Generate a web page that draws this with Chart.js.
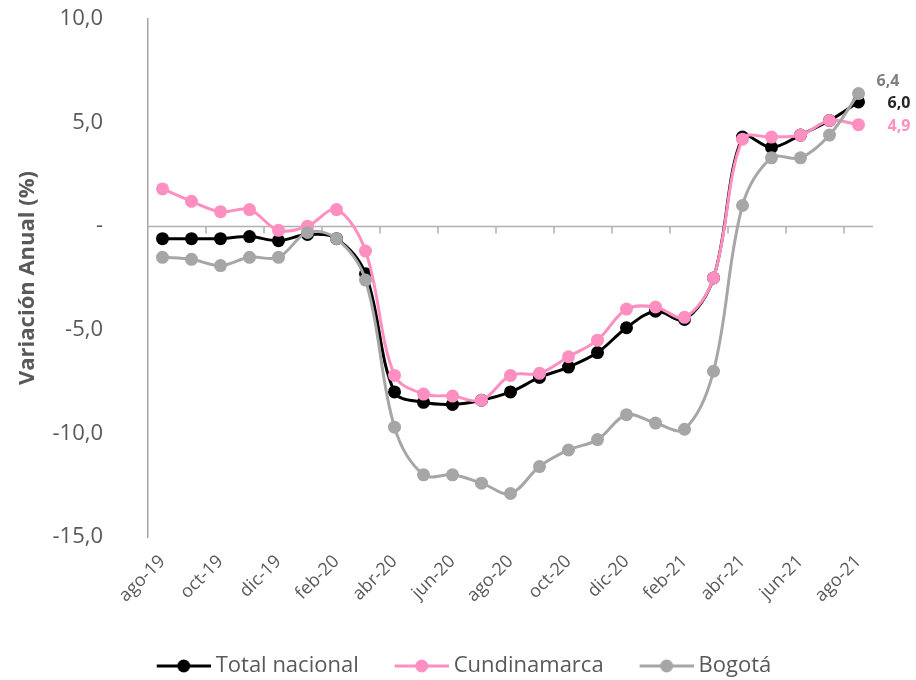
<!DOCTYPE html>
<html>
<head>
<meta charset="utf-8">
<script src="https://cdn.jsdelivr.net/npm/chart.js@4/dist/chart.umd.min.js"></script>
<style>
  html, body { margin: 0; padding: 0; background: #fff; }
  #wrap { width: 916px; height: 680px; }
</style>
</head>
<body>
<div id="wrap"><canvas id="variacionChart"></canvas></div>
<script>
const meses = ['ago-19', 'sep-19', 'oct-19', 'nov-19', 'dic-19', 'ene-20', 'feb-20', 'mar-20', 'abr-20', 'may-20',
    'jun-20', 'jul-20', 'ago-20', 'sep-20', 'oct-20', 'nov-20', 'dic-20', 'ene-21', 'feb-21', 'mar-21',
    'abr-21', 'may-21', 'jun-21', 'jul-21', 'ago-21'];
const totalNacional = [-0.6, -0.6, -0.6, -0.5, -0.7, -0.4, -0.6, -2.3, -8.0, -8.5, -8.6, -8.4, -8.0, -7.3, -6.8,
    -6.1, -4.9, -4.1, -4.5, -2.5, 4.3, 3.8, 4.4, 5.1, 6.0];
const cundinamarca = [1.8, 1.2, 0.7, 0.8, -0.2, 0.0, 0.8, -1.2, -7.2, -8.1, -8.2, -8.4, -7.2, -7.1, -6.3,
    -5.5, -4.0, -3.9, -4.4, -2.5, 4.2, 4.3, 4.4, 5.1, 4.9];
const bogota = [-1.5, -1.6, -1.9, -1.5, -1.5, -0.3, -0.6, -2.6, -9.7, -12.0, -12.0, -12.4, -12.9, -11.6, -10.8,
    -10.3, -9.1, -9.5, -9.8, -7.0, 1.0, 3.3, 3.3, 4.4, 6.4];
const yTicks = [-15, -10, -5, 0, 5, 10];

const FONT = "'Open Sans', 'Noto Sans', sans-serif";
const TXT = '#595959';

function fmt(v) {
    if (v === 0) return '-';
    return v.toFixed(1).replace('.', ',');
}

// line + dot image for the legend
function legendIcon(color, boxW) {
    const c = document.createElement('canvas');
    c.width = boxW + 12;
    c.height = 16;
    const g = c.getContext('2d');
    const x0 = c.width - 54;
    g.strokeStyle = color;
    g.lineWidth = 3;
    g.beginPath();
    g.moveTo(x0, 8);
    g.lineTo(c.width, 8);
    g.stroke();
    g.fillStyle = color;
    g.beginPath();
    g.arc(x0 + 27, 8, 6.5, 0, Math.PI * 2);
    g.fill();
    return c;
}

const zeroLine = {
    id: 'zeroLine',
    beforeDatasetsDraw(chart) {
        const { ctx, chartArea } = chart;
        const x = chart.scales.x, y = chart.scales.y;
        const y0 = Math.round(y.getPixelForValue(0)) + 0.5;
        ctx.save();
        ctx.strokeStyle = '#B0B0B0';
        ctx.lineWidth = 1.5;
        ctx.beginPath();
        ctx.moveTo(chartArea.left, y0);
        ctx.lineTo(chartArea.right, y0);
        for (let i = 1; i < meses.length - 1; i += 2) {
            const px = (x.getPixelForValue(i) + x.getPixelForValue(i + 1)) / 2;
            ctx.moveTo(px, y0);
            ctx.lineTo(px, y0 + 7);
        }
        ctx.stroke();
        ctx.restore();
    }
};

const lastLabels = {
    id: 'lastLabels',
    afterDatasetsDraw(chart) {
        const ctx = chart.ctx;
        ctx.save();
        ctx.font = 'bold 16px ' + FONT;
        ctx.textBaseline = 'middle';
        ctx.textAlign = 'left';
        chart.data.datasets.forEach(function(ds, i) {
            const meta = chart.getDatasetMeta(i);
            const n = ds.data.length - 1;
            const pt = meta.data[n];
            ctx.fillStyle = ds.labelColor;
            ctx.fillText(fmt(ds.data[n]), pt.x + ds.labelOffset[0], pt.y + ds.labelOffset[1]);
        });
        ctx.restore();
    }
};

// center the legend on the whole canvas, a bit lower
const legendPlace = {
    id: 'legendPlace',
    afterLayout(chart) {
        const lg = chart.legend;
        lg.left = -14;
        lg.right = chart.width;
        lg.top += 7;
        lg.bottom += 7;
    }
};

const BOXW = 74;

const ctx = document.getElementById('variacionChart').getContext('2d');
new Chart(ctx, {
    type: 'line',
    data: {
        labels: meses,
        datasets: [
            {
                label: 'Total nacional',
                data: totalNacional,
                borderColor: '#000000',
                backgroundColor: '#000000',
                labelColor: '#262626',
                labelOffset: [29, 2],
                order: 2
            },
            {
                label: 'Cundinamarca',
                data: cundinamarca,
                borderColor: '#FF8FC0',
                backgroundColor: '#FF8FC0',
                labelColor: '#FF8FC0',
                labelOffset: [29, 2],
                order: 1
            },
            {
                label: 'Bogotá',
                data: bogota,
                borderColor: '#A6A6A6',
                backgroundColor: '#A6A6A6',
                labelColor: '#808080',
                labelOffset: [18, -12],
                order: 0
            }
        ]
    },
    options: {
        responsive: true,
        maintainAspectRatio: false,
        animation: false,
        layout: {
            padding: { top: 19, right: 43, left: 0, bottom: 0 }
        },
        elements: {
            line: { borderWidth: 3, tension: 0.35 },
            point: { radius: 6.5, borderWidth: 0, hoverRadius: 6.5 }
        },
        plugins: {
            tooltip: { enabled: false },
            legend: {
                position: 'bottom',
                labels: {
                    usePointStyle: true,
                    pointStyleWidth: BOXW,
                    padding: 10,
                    color: TXT,
                    font: { family: FONT, size: 22 },
                    sort: function(a, b) { return a.datasetIndex - b.datasetIndex; },
                    generateLabels: function(chart) {
                        const items = Chart.defaults.plugins.legend.labels.generateLabels(chart);
                        items.forEach(function(it) {
                            const ds = chart.data.datasets[it.datasetIndex];
                            it.pointStyle = legendIcon(ds.borderColor, BOXW);
                        });
                        return items;
                    }
                }
            }
        },
        scales: {
            x: {
                offset: true,
                grid: { display: false },
                border: { display: false },
                ticks: {
                    autoSkip: false,
                    minRotation: 45,
                    maxRotation: 45,
                    padding: 6,
                    color: TXT,
                    font: { family: FONT, size: 18 },
                    callback: function(v, i) { return i % 2 === 0 ? meses[i] : ''; }
                },
                afterFit: function(s) { s.height = 101; }
            },
            y: {
                min: yTicks[0],
                max: yTicks[yTicks.length - 1],
                grid: { display: false, drawTicks: false },
                border: { display: true, color: '#A6A6A6', width: 1.5 },
                afterBuildTicks: function(s) { s.ticks = yTicks.map(function(v) { return { value: v }; }); },
                ticks: {
                    padding: 45,
                    color: TXT,
                    font: { family: FONT, size: 22 },
                    callback: function(v) { return fmt(v); }
                },
                title: {
                    display: true,
                    text: 'Variación Anual (%)',
                    color: TXT,
                    font: { family: FONT, size: 22, weight: 'bold' },
                    padding: { top: 15, bottom: 0 }
                },
                afterFit: function(s) {
                    s.width = 148;
                    s.paddingTop = 0;
                    s.paddingBottom = 0;
                }
            }
        }
    },
    plugins: [zeroLine, lastLabels, legendPlace]
});
</script>
</body>
</html>
